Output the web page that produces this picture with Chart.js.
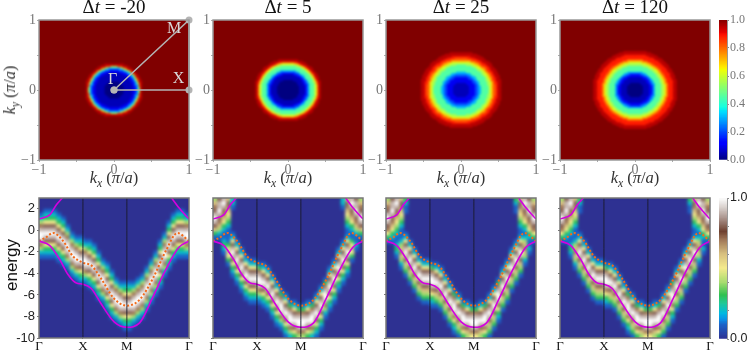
<!DOCTYPE html>
<html>
<head>
<meta charset="utf-8">
<script src="https://cdn.jsdelivr.net/npm/chart.js@4/dist/chart.umd.min.js"></script>
<style>
html, body { margin: 0; background: #fff; overflow: hidden; }
#fig { position: relative; width: 747px; height: 352px; }
canvas { position: absolute; }
.txt { position: absolute; white-space: nowrap; line-height: 1; transform-origin: center; }
sub { font-size: 70%; line-height: 0; }
</style>
</head>
<body>
<div id="fig"></div>
<script>
var titles = ['-20', '5', '25', '120'];
var panelLefts = [39, 213, 386, 560];

// top row: one quadrant of each map, row = ky index, column = kx index, step 0.02
// anything past the end of a row is 1.0
var kStep = 0.02;
var mapDtm20 = ['0000000oooooo11235x', '0000000oooooo11235x', '0000000oooooo11235x', '0000000oooooo11238x', '000000ooooooo12338x', '00000ooooooo112358x', '0000oooooooo11235xx', 'ooooooooooo112358x', 'ooooooooooo112358x', 'oooooooooo112358x', 'ooooooooo112335xx', 'ooooooo11123358x', 'ooooo111123358x', '1111111223358x', '111122233558x', '2222333558xx', '333335588xx', '555888xxx', 'xxxxxxx'];
var mapDt5 = ['00000000oooo123444568x', '00000000oooo123444568x', '00000000oooo123444568x', '00000000oooo123444568x', '0000000oooo1123444568x', '0000000oooo1223444579x', '000000oooo11234445579x', '0000oooooo1223444568x', 'ooooooooo11234444579x', 'oooooooo11234444568xx', 'oooooo1112334445579x', 'oooo11122334444568xx', '111112223444445689x', '22222233444445679x', '3333334444445679x', '444444444455679xx', '44444444455689xx', '4444445556789x', '55555556789xx', '666667789xxx', '8888899xxx', 'xxxxxxx'];
var mapDt25 = ['oooooo1111223344444567889xx', 'oooooo1111223344444567889xx', 'oooooo1111223344444567889xx', 'oooooo1111223344444567889xx', 'ooooo11111223444445567889xx', 'oooo111112233444445567899xx', '1111111122233444445567899xx', '111111112233444445567889xxx', '111111222334444445567899xx', '111112223334444445677899xx', '22222223334444445567889xxx', '22222333444444455677899xx', '3333333444444455667889xxx', '3333444444444455678899xx', '444444444444555678899xxx', '44444444444555677899xxx', '44444444445566778899xx', '4444444455566788899xx', '444455555667788999xxx', '55555556677788999xxx', '666666677788899xxxx', '77777778888999xxx', '888888889999xxxx', '8888899999xxxxx', '9999999xxxxxx', 'xxxxxxxxxxx', 'xxxxxxxx'];
var mapDt120 = ['000000oooo1123444455678999xx', '000000oooo1123444455678999xx', '000000oooo1123444455678999xx', '000000oooo1123444455678999xx', '00000ooooo1223444455678999xx', '0000ooooo11233444456778999xx', 'oooooooo112234444556789999xx', 'oooooooo112334444556789999xx', 'oooooo1112234444456778999xx', 'ooooo11122344444556789999xx', '111111222344444556778999xxx', '111122233444444556789999xx', '222223334444445567889999xx', '33333344444445567789999xx', '4444444444445566789999xxx', '4444444444555667889999xx', '444444444555677889999xx', '44444455556677889999xxx', '5555555566778899999xxx', '555556667778899999xxx', '66666777788999999xxx', '7777778889999999xxx', '88888899999999xxxx', '9999999999999xxx', '9999999999xxxxx', '99999999xxxxx', 'xxxxxxxxxxx', 'xxxxxxxx'];
var mapLevels = { '0': 0, 'o': 0.05, '1': 0.1, '2': 0.2, '3': 0.3, '4': 0.45, '5': 0.55, '6': 0.62, '7': 0.72, '8': 0.82, '9': 0.88, 'x': 0.95 };

// bottom row: one string per k column, top row of the string is energy 3
// digit = tenths, a = 1.0, (n) = n zeros, missing = 0
var bandCols = 34, bandRows = 37;
var bandDtm20 = ['(4)12479aa97421', '(3)123589a985321', '(3)123589a985321', '(3)123589a985321', '(4)123589a985321', '(5)123589a985321', '(7)12479aa97421', '(9)12479aa97421', '(10)12479aa97421', '(10)123589a985321', '(11)12479aa97421', '(11)123589a985321', '(12)123589a985321', '(14)123589a985321', '(16)12479aa97421', '(17)123589a985321', '(19)123589a985321', '(21)12479aa97421', '(22)12479aa97421', '(22)123589a985321', '(22)123589a985321', '(22)12479aa97421', '(21)12479aa97421', '(20)12479aa97421', '(18)12479aa97421', '(16)12479aa97421', '(14)12479aa97421', '(11)123589a985321', '(9)12479aa97421', '(6)123589a985321', '(4)123589a985321', '(3)123589a985321', '(3)123589a985321', '(4)12479aa97421'];
var bandDt5 = ['46789a98631', '899a9876421', '9a9876532112321', '687654321111356531', '221(6)12589a985321', '(11)12589a985321', '(13)12589a985321', '(15)12589a985321', '(16)12589a985321', '(16)12589a985321', '(17)1379aa97421', '(17)12589a985321', '(18)12589a985321', '(20)12589a985321', '(22)12589a985321', '(24)1379aa97421', '(25)12589a985321', '(27)1379aa97421', '(27)12589a985321', '(28)1379aa97421', '(28)1379aa97421', '(27)12589a985321', '(27)1379aa97421', '(25)12589a985321', '(23)12589a985321', '(21)1379aa97421', '(18)12589a985321', '(16)12589a985321', '(13)12589a985321', '221(8)12589a985321', '68765432112589a985321', '9a987653211356531', '899a9876421121', '46789a98631'];
var bandDt25 = ['46789a987531', '899a98765321', '9a98765432112321', '6876543211124676421', '3211(5)12589a986431', '(11)12589a986431', '(13)12589a986431', '(15)12589a986431', '(16)12589a986431', '(16)12589a986431', '(17)1379aa975321', '(17)12589a986431', '(18)12589a986431', '(20)12589a986431', '(22)12589a986431', '(24)1379aa975321', '(25)12589a986431', '(27)1379aa975321', '(27)12589a986431', '(28)1379aa975321', '(28)1379aa975321', '(27)12589a986431', '(27)1379aa975321', '(25)12589a986431', '(23)12589a986431', '(21)1379aa975321', '(18)12589a986431', '(16)12589a986431', '(13)12589a986431', '3211(7)12589a986431', '68765432112589a986431', '9a9876532124676421', '899a98765321121', '46789a987531'];
var bandDt120 = bandDt25.slice();

// path through the zone
var pathTicks = [0, 1, 2, 3.414];
var pathNames = ['Γ', 'X', 'M', 'Γ'];
var lowK = [0, 0.24, 0.47, 0.66, 0.85, 1, 1.19, 1.41, 1.71, 2, 2.29, 2.58, 2.88, 3.18, 3.414];
var lowE = [-1, -1.4, -2.7, -4.1, -4.9, -5, -5.4, -6.8, -8.5, -9, -8.6, -6.3, -3.7, -1.6, -1];
var upLeftK = [0, 0.25, 0.4, 0.53, 0.6];
var upLeftE = [1.05, 1.45, 2.4, 3, 3.4];
var upRightK = [2.95, 3.02, 3.19, 3.414];
var upRightE = [3.4, 3, 2.07, 1.05];
var dashK = [0, 0.16, 0.32, 0.55, 0.77, 1, 1.2, 1.4, 1.7, 2, 2.3, 2.6, 2.9, 3.15, 3.414];
var dashE = [-1, -0.65, -0.25, -1, -2.4, -3, -3.3, -4.4, -6.3, -7, -6.4, -4.4, -1.8, -0.25, -1];

// Γ X M guide in the first map
var guideX = [0, 1, 1, 0];
var guideY = [0, 0, 1, 0];
var guideNames = [['Γ', -0.02, 0.14], ['X', 0.86, 0.16], ['M', 0.8, 0.87]];

// colour maps
var jetR = [[0, 0], [0.35, 0], [0.66, 1], [0.89, 1], [1, 0.5]];
var jetG = [[0, 0], [0.125, 0], [0.375, 1], [0.64, 1], [0.91, 0], [1, 0]];
var jetB = [[0, 0.5], [0.11, 1], [0.34, 1], [0.65, 0], [1, 0]];
var bandStops = [[0, '#2e3192'], [0.1, '#1c63c8'], [0.135, '#0a8fe8'], [0.18, '#00b8e0'], [0.25, '#20c898'], [0.31, '#30c050'], [0.4, '#a8dc70'], [0.5, '#f4ea8c'], [0.6, '#d8c080'], [0.7, '#a07858'], [0.76, '#6e4030'], [0.85, '#a89088'], [0.93, '#d8d0cc'], [1, '#ffffff']];

function pick(stops, v) {
    for (var i = 1; i < stops.length; i++) {
        if (v <= stops[i][0]) {
            var t = (v - stops[i - 1][0]) / (stops[i][0] - stops[i - 1][0]);
            return stops[i - 1][1] + (stops[i][1] - stops[i - 1][1]) * t;
        }
    }
    return stops[stops.length - 1][1];
}
function jet(v) {
    return 'rgb(' + Math.round(255 * pick(jetR, v)) + ',' + Math.round(255 * pick(jetG, v)) + ',' + Math.round(255 * pick(jetB, v)) + ')';
}
var bandRgb = bandStops.map(function (s) {
    var h = parseInt(s[1].slice(1), 16);
    return [s[0], h >> 16, (h >> 8) & 255, h & 255];
});
function bandColor(v) {
    var c = [1, 2, 3].map(function (n) {
        return Math.round(pick(bandRgb.map(function (s) { return [s[0], s[n]]; }), v));
    });
    return 'rgb(' + c.join(',') + ')';
}

var fig = document.getElementById('fig');

function addText(html, cx, cy, css, rot) {
    var d = document.createElement('div');
    d.className = 'txt';
    d.innerHTML = html;
    d.style.cssText = 'left:' + cx + 'px;top:' + cy + 'px;transform:translate(-50%,-50%)' + (rot ? ' rotate(' + rot + 'deg)' : '') + ';' + css;
    fig.appendChild(d);
}
function addCanvas(left, top, w, h) {
    var c = document.createElement('canvas');
    c.width = w; c.height = h;
    c.style.left = left + 'px'; c.style.top = top + 'px';
    fig.appendChild(c);
    return c.getContext('2d');
}

// background, smoothing of the cell layer, frame and guide names
function panelPlugin(bg, blur, frame, names) {
    return {
        id: 'panel',
        beforeDatasetsDraw: function (chart) {
            var a = chart.chartArea, ctx = chart.ctx;
            ctx.save();
            ctx.fillStyle = bg;
            ctx.fillRect(a.left, a.top, a.width, a.height);
            ctx.restore();
        },
        afterDatasetDraw: function (chart, args) {
            if (args.index !== 0) return;
            var a = chart.chartArea, ctx = chart.ctx;
            ctx.save();
            ctx.beginPath();
            ctx.rect(a.left, a.top, a.width, a.height);
            ctx.clip();
            ctx.filter = 'blur(' + blur + 'px)';
            ctx.drawImage(ctx.canvas, a.left, a.top, a.width, a.height, a.left, a.top, a.width, a.height);
            ctx.restore();
        },
        afterDatasetsDraw: function (chart) {
            var a = chart.chartArea, ctx = chart.ctx;
            ctx.save();
            if (names) {
                ctx.fillStyle = '#d8d8d8';
                ctx.font = '16px "Liberation Serif"';
                ctx.textAlign = 'center';
                ctx.textBaseline = 'middle';
                names.forEach(function (n) {
                    ctx.fillText(n[0], chart.scales.x.getPixelForValue(n[1]), chart.scales.y.getPixelForValue(n[2]));
                });
            }
            ctx.strokeStyle = frame;
            ctx.lineWidth = 1.5;
            ctx.strokeRect(a.left, a.top, a.width, a.height);
            ctx.restore();
        }
    };
}

function mapDataset(rows) {
    var pts = [], cols = [];
    rows.forEach(function (row, j) {
        for (var i = 0; i < row.length; i++) {
            var c = jet(mapLevels[row[i]]);
            [1, -1].forEach(function (sx) {
                [1, -1].forEach(function (sy) {
                    if ((i === 0 && sx < 0) || (j === 0 && sy < 0)) return;
                    pts.push({ x: sx * i * kStep, y: sy * j * kStep });
                    cols.push(c);
                });
            });
        }
    });
    return { data: pts, pointStyle: 'rect', pointRadius: 1.6, pointBorderWidth: 0, pointBackgroundColor: cols, showLine: false, order: 9 };
}

function bandDataset(columns) {
    var pts = [], cols = [];
    columns.forEach(function (s, c) {
        var col = s.replace(/\((\d+)\)/g, function (m, n) { return '0'.repeat(+n); });
        for (var r = 0; r < bandRows && r < col.length; r++) {
            if (col[r] === '0') continue;
            pts.push({ x: (c + 0.5) * pathTicks[3] / bandCols, y: 3 - (r + 0.5) * 13 / bandRows });
            cols.push(bandColor(col[r] === 'a' ? 1 : +col[r] / 10));
        }
    });
    return { data: pts, pointStyle: 'rect', pointRadius: 3.4, pointBorderWidth: 0, pointBackgroundColor: cols, showLine: false, order: 9 };
}

function curve(xs, ys, color, width, dash) {
    return {
        data: xs.map(function (x, i) { return { x: x, y: ys[i] }; }),
        showLine: true, pointRadius: 0, borderColor: color, borderWidth: width, borderDash: dash || [],
        cubicInterpolationMode: 'monotone', order: 1
    };
}

var baseOptions = { responsive: false, animation: false, events: [], plugins: { legend: { display: false }, tooltip: { enabled: false } } };

[mapDtm20, mapDt5, mapDt25, mapDt120].forEach(function (rows, p) {
    var sets = [mapDataset(rows)];
    if (p === 0) {
        sets.push({
            data: guideX.map(function (x, i) { return { x: x, y: guideY[i] }; }),
            showLine: true, borderColor: '#b4b4b4', borderWidth: 1.5, pointRadius: 3.5, pointBackgroundColor: '#b4b4b4', pointBorderWidth: 0, clip: false, order: 1
        });
    }
    var labelOnly = function (v) { return Math.abs(v) === 0.5 ? '' : (v < 0 ? '\u2212' + Math.abs(v) : '' + v); };
    var tickFont = { family: 'Liberation Serif', size: 14 };
    new Chart(addCanvas(panelLefts[p] - 38, 0, 200, 185), {
        type: 'scatter',
        data: { datasets: sets },
        options: Object.assign({}, baseOptions, {
            layout: { autoPadding: false, padding: { top: 20, right: 12, bottom: 0, left: 0 } },
            scales: {
                x: {
                    type: 'linear', min: -1, max: 1,
                    ticks: { stepSize: 0.5, color: '#777', font: tickFont, padding: 0, maxRotation: 0, autoSkip: false, callback: labelOnly },
                    grid: { drawOnChartArea: false, tickLength: 2, color: '#aaa' }, border: { display: false },
                    afterFit: function (s) { s.height = 25; }
                },
                y: {
                    type: 'linear', min: -1, max: 1,
                    ticks: { stepSize: 0.5, color: '#777', font: tickFont, padding: 1, autoSkip: false, callback: labelOnly },
                    grid: { drawOnChartArea: false, tickLength: 2, color: '#aaa' }, border: { display: false },
                    afterFit: function (s) { s.width = 38; }
                }
            }
        }),
        plugins: [panelPlugin('#800000', p < 2 ? 0.8 : 1, '#999', p === 0 ? guideNames : null)]
    });
    addText('\u0394<i>t</i> = ' + titles[p], panelLefts[p] + 75, 7, 'font:19px "Liberation Serif";color:#111');
    addText('<i>k<sub>x</sub></i> (<i>\u03c0</i>/<i>a</i>)', panelLefts[p] + 75, 178, 'font:16.5px "Liberation Serif";color:#333');
});
addText('<i>k<sub>y</sub></i> (<i>\u03c0</i>/<i>a</i>)', 10, 90, 'font:16.5px "Liberation Serif";color:#333', -90);

[bandDtm20, bandDt5, bandDt25, bandDt120].forEach(function (cols, p) {
    var sets = [bandDataset(cols)];
    pathTicks.slice(1, 3).forEach(function (k) {
        sets.push(curve([k, k], [-10, 3], '#1a1a2a', 0.9));
    });
    sets.push(curve(lowK, lowE, '#d400e0', 1.6));
    sets.push(curve(upLeftK, upLeftE, '#d400e0', 1.6));
    sets.push(curve(upRightK, upRightE, '#d400e0', 1.6));
    sets.push(curve(dashK, dashE, '#f26a1a', 2, [2, 2]));
    new Chart(addCanvas(panelLefts[p] - 38, 185, 200, 167), {
        type: 'scatter',
        data: { datasets: sets },
        options: Object.assign({}, baseOptions, {
            layout: { autoPadding: false, padding: { top: 13, right: 12, bottom: 0, left: 0 } },
            scales: {
                x: {
                    type: 'linear', min: 0, max: pathTicks[3],
                    afterBuildTicks: function (s) { s.ticks = pathTicks.map(function (v) { return { value: v }; }); },
                    ticks: { color: '#111', font: { family: 'Liberation Serif', size: 13 }, padding: 0, maxRotation: 0, autoSkip: false, callback: function (v, i) { return pathNames[i]; } },
                    grid: { drawOnChartArea: false, tickLength: 1, color: '#777' }, border: { display: false },
                    afterFit: function (s) { s.height = 14; }
                },
                y: {
                    type: 'linear', min: -10, max: 3,
                    ticks: { stepSize: 2, includeBounds: false, color: '#222', font: { family: 'Liberation Sans', size: 13 }, padding: 2, callback: function (v) { return p === 0 ? '' + v : ''; } },
                    grid: { drawOnChartArea: false, tickLength: 2, color: '#777' }, border: { display: false },
                    afterFit: function (s) { s.width = 38; }
                }
            }
        }),
        plugins: [panelPlugin('#2e3192', 1.6, '#777', null)]
    });
});
addText('energy', 12, 265, 'font:17px "Liberation Sans";color:#111', -90);

// colour bars: one floating bar per level, each reaching up to 1
var barLevels = [];
for (var lv = 99; lv >= 0; lv--) barLevels.push(lv / 100);

function colorBar(top, h, padTop, padBottom, colorOf, tickColor, tickFont, showTick) {
    new Chart(addCanvas(712, top, 35, h), {
        type: 'bar',
        data: {
            labels: [''],
            datasets: barLevels.map(function (lv) {
                return { data: [[lv, 1]], backgroundColor: colorOf(lv), borderWidth: 0, barPercentage: 1, categoryPercentage: 1, grouped: false };
            })
        },
        options: Object.assign({}, baseOptions, {
            layout: { autoPadding: false, padding: { top: padTop, right: 0, bottom: padBottom, left: 7 } },
            scales: {
                x: { display: false },
                y: {
                    position: 'right', min: 0, max: 1,
                    ticks: { stepSize: 0.2, color: tickColor, font: tickFont, padding: 1, callback: function (v) { return showTick(v) ? v.toFixed(1) : ''; } },
                    grid: { drawOnChartArea: false, tickLength: 2, color: '#888' }, border: { color: '#999' },
                    afterFit: function (s) { s.width = 20; }
                }
            }
        })
    });
}
colorBar(0, 185, 20, 25, jet, '#777', { family: 'Liberation Serif', size: 12 }, function () { return true; });
colorBar(185, 167, 13, 13, bandColor, '#222', { family: 'Liberation Sans', size: 12.5 }, function (v) { return v === 0 || v === 1; });
</script>
</body>
</html>
